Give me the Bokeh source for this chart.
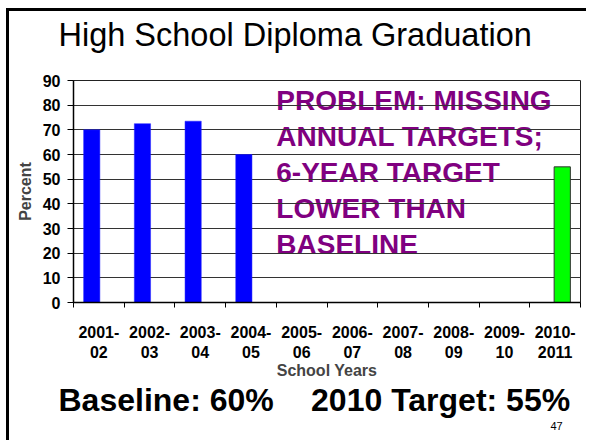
from bokeh.plotting import figure
from bokeh.models import FixedTicker, Range1d, Title
from bokeh.embed import file_html
from bokeh.resources import INLINE
from bokeh.core.properties import value

# ---- data ----
school_years = ["2001-\n02", "2002-\n03", "2003-\n04", "2004-\n05", "2005-\n06",
                "2006-\n07", "2007-\n08", "2008-\n09", "2009-\n10", "2010-\n2011"]
actual_years = ["2001-\n02", "2002-\n03", "2003-\n04", "2004-\n05"]
actual_values = [70, 72.5, 73.5, 60]
target_years = ["2010-\n2011"]
target_values = [55]
y_ticks = [0, 10, 20, 30, 40, 50, 60, 70, 80, 90]
problem_lines = ["PROBLEM: MISSING", "ANNUAL TARGETS;", "6-YEAR TARGET",
                 "LOWER THAN", "BASELINE"]
title_text = "High School Diploma Graduation"
footer_text = "Baseline: 60%\u2003\u20062010 Target: 55%"
page_number = "47"

FONT = "Liberation Sans"
n = len(school_years)
idx = {c: i for i, c in enumerate(school_years)}
centers = [i + 0.5 for i in range(n)]
bounds = [i for i in range(n + 1)]

p = figure(width=580, height=432, output_backend="svg", toolbar_location=None,
           x_range=Range1d(0, n), y_range=Range1d(0, 90),
           min_border_left=64, min_border_right=9, min_border_top=69,
           min_border_bottom=141)
p.styles = {"margin-left": "6px", "margin-top": "8px",
            "border-left": "3px solid black", "border-top": "3px solid black"}
p.background_fill_color = "white"
p.border_fill_color = "white"
p.outline_line_color = "#222222"
p.outline_line_width = 1

# grid
p.xgrid.grid_line_color = None
p.ygrid.grid_line_color = "#333333"
p.ygrid.grid_line_width = 1
p.ygrid.ticker = FixedTicker(ticks=y_ticks)

# y axis
p.yaxis.ticker = FixedTicker(ticks=y_ticks)
p.yaxis.axis_line_color = "black"
p.yaxis.axis_line_width = 1.5
p.yaxis.major_tick_out = 6
p.yaxis.major_tick_in = 0
p.yaxis.minor_tick_line_color = None
p.yaxis.major_label_text_font = FONT
p.yaxis.major_label_text_font_style = "bold"
p.yaxis.major_label_text_font_size = "16px"
p.yaxis.major_label_text_color = "black"
p.yaxis.major_label_standoff = 7
p.yaxis.axis_label = "Percent"
p.yaxis.axis_label_text_font = FONT
p.yaxis.axis_label_text_font_style = "bold"
p.yaxis.axis_label_text_font_size = "16px"
p.yaxis.axis_label_standoff = 6

# x axis: labels at centers, ticks at boundaries
p.xaxis.ticker = FixedTicker(ticks=centers, minor_ticks=bounds)
p.xaxis.major_label_overrides = {c: lab for c, lab in zip(centers, school_years)}
p.xaxis.axis_line_color = "black"
p.xaxis.axis_line_width = 1.5
p.xaxis.major_tick_line_color = None
p.xaxis.major_tick_out = 0
p.xaxis.major_tick_in = 0
p.xaxis.minor_tick_line_color = "black"
p.xaxis.minor_tick_out = 5
p.xaxis.minor_tick_in = 0
p.xaxis.major_label_text_font = FONT
p.xaxis.major_label_text_font_style = "bold"
p.xaxis.major_label_text_font_size = "16px"
p.xaxis.major_label_text_color = "black"
p.xaxis.major_label_text_line_height = 1.2
p.xaxis.major_label_standoff = 16
p.xaxis.axis_label = "School Years"
p.xaxis.axis_label_text_font = FONT
p.xaxis.axis_label_text_font_style = "bold"
p.xaxis.axis_label_text_font_size = "16px"
p.xaxis.axis_label_standoff = -2

# problem text behind the grid
step = 14.6
p.text(x=[4.0] * len(problem_lines),
       y=[81.9 - i * step for i in range(len(problem_lines))],
       text=problem_lines, text_font=value(FONT), text_font_style="bold",
       text_font_size="28px", text_color="#800080", text_baseline="alphabetic",
       text_align="left", level="image")

# bars
p.vbar(x=[idx[c] + 0.5 - 0.14 for c in actual_years], top=actual_values, width=0.32,
       bottom=0, fill_color="#0000FF", line_color="#2020FF", line_width=0.5)
p.vbar(x=[idx[c] + 0.5 + 0.14 for c in target_years], top=target_values, width=0.32,
       bottom=0, fill_color="#00FF00", line_color="#333333", line_width=1)

# spacer between frame and title, then the title
p.add_layout(Title(text=" ", text_font_size="10px", standoff=13), "above")
p.add_layout(Title(text=title_text, align="left", offset=-15, standoff=0,
                   vertical_align="top",
                   text_font=FONT, text_font_size="32.5px", text_font_style="normal",
                   text_color="black"), "above")
# footer and page number below
p.add_layout(Title(text=footer_text, align="left", offset=-15, standoff=0,
                   vertical_align="top",
                   text_font=FONT, text_font_size="32px", text_font_style="bold",
                   text_color="black"), "below")
p.add_layout(Title(text=page_number, align="left", offset=477, standoff=0,
                   text_font=FONT, text_font_size="11px", text_font_style="normal",
                   text_color="black"), "below")

open("out.html", "w").write(file_html(p, INLINE))
